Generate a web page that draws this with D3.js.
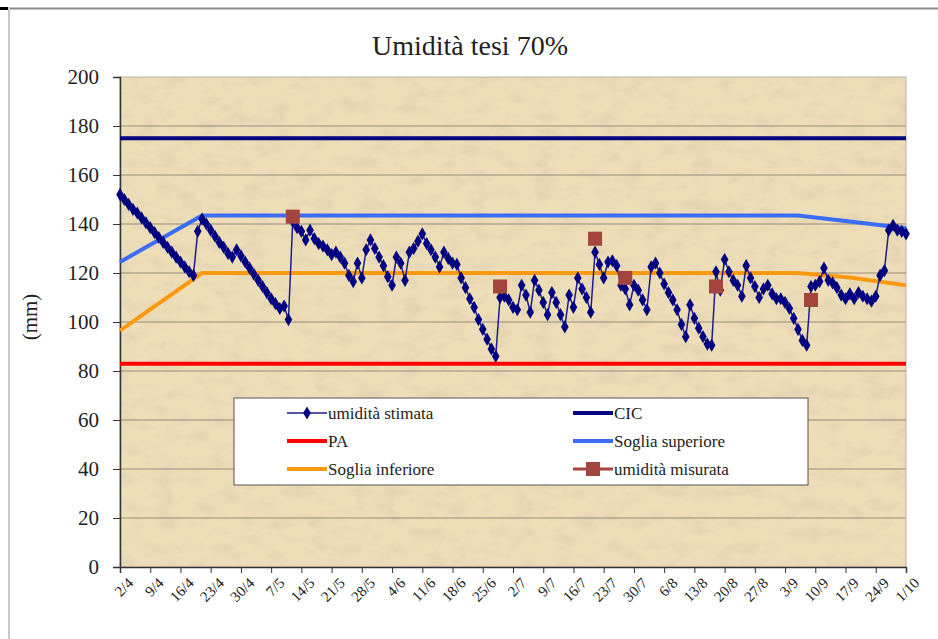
<!DOCTYPE html>
<html lang="it">
<head>
<meta charset="UTF-8">
<title>Umidità tesi 70%</title>
<script src="https://cdn.jsdelivr.net/npm/d3@7"></script>
<style>
    body{ margin:0; background:#fff; }
    svg text{ font-family:"Liberation Serif","Times New Roman","DejaVu Serif",serif; }
</style>
</head>
<body>
<script>
// dati
const inizio = "2/4";
const etichetteX = ["2/4","9/4","16/4","23/4","30/4","7/5","14/5","21/5","28/5","4/6","11/6","18/6","25/6",
    "2/7","9/7","16/7","23/7","30/7","6/8","13/8","20/8","27/8","3/9","10/9","17/9","24/9","1/10"];
const tickY = [0,20,40,60,80,100,120,140,160,180,200];

// umidità stimata, un valore al giorno dal 2/4 al 1/10
const stimata = [
    152,150,148,146,144.5,142.5,140.5,138.5,136.5,134.5,132.5,130.5,128.5,126.5,124.5,122.5,120.5,119,
    137,142,140,137.5,135,132.5,130.5,128,126.5,129.5,127,124.5,122,119.5,117,114.5,112,109.5,107.5,105.5,106.5,101,
    141,138.5,137,133.5,137.5,134,132,131,129.5,127.5,128.5,126.5,124,119,116.5,124,118,129.5,133.5,130,
    126.5,123,118.5,115,126.5,124,117,128.5,130,133,136,132,129.5,126.5,122.5,128.5,126,124,123.5,118,
    114,109.5,106,101,97,93,89,86,
    110,110.5,109,106,105,115,111,104,117,113,108,103,112,108,103,98,111,106,118,113.5,
    110,104,128.5,123.5,118,124.5,125,123,115,113.5,107,115,113,109,105,122.5,124,120,115.5,112,
    109,105,99,94,107,101.5,97.5,94,91,90.5,
    120.5,113,125.5,120.5,117,115,110.5,123,118,114.5,110,113.5,115,111.5,109.5,109.5,108,105.5,101.5,97,92.5,90.5,
    114.5,115,116.5,122,117,116,114,111,109.5,111.5,109.5,112,110.5,109.5,108.5,110.5,119,121,137.5,139.5,137.5,137,136
];

const misurataDate = ["12/5","29/6","21/7","28/7","18/8","9/9"];
const misurataVal = [143,114.5,134,118,114.5,109];

const sogliaDate = ["2/4","21/4","6/9","18/9","1/10"];
const sogliaSup = [124.5,143.5,143.5,141,138.3];
const sogliaInf = [96.5,120,120,118.2,115];

const CIC = 175;
const PA = 83;

const width = 938, height = 639;
const margin = {top:77, right:32, bottom:72, left:120};
const serif = '"Liberation Serif","Times New Roman","DejaVu Serif",serif';

const parse = d3.utcParse("%d/%m");
const start = parse(inizio);
const end = parse(etichetteX[etichetteX.length-1]);

const svg = d3.select("body").append("svg")
    .attr("width", width).attr("height", height);

const x = d3.scaleUtc().domain([start, end]).range([margin.left, width - margin.right]);
const y = d3.scaleLinear().domain([0, 200]).range([height - margin.bottom, margin.top]);

// cornice esterna
svg.append("line").attr("x1",8).attr("x2",width).attr("y1",8.5).attr("y2",8.5)
    .attr("stroke","#8a8a8a").attr("stroke-width",2);
svg.append("line").attr("x1",9).attr("x2",9).attr("y1",8).attr("y2",height)
    .attr("stroke","#c8c8c8").attr("stroke-width",2);
svg.append("line").attr("x1",0).attr("x2",8).attr("y1",8.5).attr("y2",8.5)
    .attr("stroke","#000").attr("stroke-width",3);

// sfondo pergamena
const defs = svg.append("defs");
const f = defs.append("filter").attr("id","carta")
    .attr("x",0).attr("y",0).attr("width",1).attr("height",1);
f.append("feTurbulence").attr("type","fractalNoise").attr("baseFrequency","0.045 0.07")
    .attr("numOctaves",4).attr("seed",11).attr("result","n");
f.append("feColorMatrix").attr("in","n").attr("type","matrix")
    .attr("values","0 0 0 0 0.66  0 0 0 0 0.56  0 0 0 0 0.40  0.9 0 0 0 -0.36");

const pw = x.range()[1] - x.range()[0];
const ph = y.range()[0] - y.range()[1];
svg.append("rect").attr("x",margin.left).attr("y",margin.top).attr("width",pw).attr("height",ph)
    .attr("fill","#eedeb8");
svg.append("rect").attr("x",margin.left).attr("y",margin.top).attr("width",pw).attr("height",ph)
    .attr("fill","#000").attr("filter","url(#carta)");
svg.append("rect").attr("x",margin.left).attr("y",margin.top).attr("width",pw).attr("height",ph)
    .attr("fill","none").attr("stroke","#b9b2a4");

// griglia
svg.append("g").selectAll("line").data(tickY.filter(d => d > 0 && d < 200)).join("line")
    .attr("x1",margin.left).attr("x2",width - margin.right)
    .attr("y1",d => y(d)).attr("y2",d => y(d))
    .attr("stroke","#80786a").attr("stroke-width",1).attr("opacity",0.8);

// assi
const tickDate = etichetteX.map(parse);
svg.append("g").attr("transform",`translate(0,${y(0)})`)
    .call(d3.axisBottom(x).tickValues(tickDate).tickSize(6).tickFormat((d,i) => etichetteX[i]))
    .call(g => g.select(".domain").attr("stroke","#333").attr("stroke-width",1.5))
    .call(g => g.selectAll(".tick line").attr("stroke","#333"))
    .call(g => g.selectAll("text")
        .style("font-family",serif).attr("font-size",15).attr("fill","#222")
        .attr("text-anchor","end").attr("dx","-0.15em").attr("dy","0.85em")
        .attr("transform","rotate(-45)"));

svg.append("g").attr("transform",`translate(${margin.left},0)`)
    .call(d3.axisLeft(y).tickValues(tickY).tickSize(7).tickPadding(14))
    .call(g => g.select(".domain").attr("stroke","#333").attr("stroke-width",1.5))
    .call(g => g.selectAll(".tick line").attr("stroke","#333"))
    .call(g => g.selectAll("text")
        .style("font-family",serif).attr("font-size",21).attr("fill","#222"));

svg.append("text").attr("transform",`translate(37,${(y(0)+y(200))/2 - 5}) rotate(-90)`)
    .style("font-family",serif)
    .attr("text-anchor","middle").attr("font-size",21).attr("fill","#222").text("(mm)");

svg.append("text").attr("x",470).attr("y",55).attr("text-anchor","middle")
    .style("font-family",serif)
    .attr("font-size",28).attr("fill","#222").text("Umidità tesi 70%");

// linee di soglia
const line = d3.line().x(d => x(d[0])).y(d => y(d[1]));
const orizz = v => [[start, v],[end, v]];
const soglia = vals => sogliaDate.map((d,i) => [parse(d), vals[i]]);

svg.append("path").attr("d", line(orizz(CIC))).attr("fill","none").attr("stroke","#000080").attr("stroke-width",4);
svg.append("path").attr("d", line(orizz(PA))).attr("fill","none").attr("stroke","#ff0000").attr("stroke-width",4);
svg.append("path").attr("d", line(soglia(sogliaSup))).attr("fill","none").attr("stroke","#3a6cf5").attr("stroke-width",4);
svg.append("path").attr("d", line(soglia(sogliaInf))).attr("fill","none").attr("stroke","#ff9a10").attr("stroke-width",4);

// umidità stimata
const serie = stimata.map((v,i) => [d3.utcDay.offset(start, i), v]);
svg.append("path").attr("d", line(serie)).attr("fill","none").attr("stroke","#1d1d8a").attr("stroke-width",1.5);
const diamante = d3.symbol().type(d3.symbolDiamond).size(50);
svg.append("g").selectAll("path").data(serie).join("path")
    .attr("transform", d => `translate(${x(d[0])},${y(d[1])})`)
    .attr("d", diamante).attr("fill","#000080");

// umidità misurata
svg.append("g").selectAll("rect").data(misurataDate.map((d,i) => [parse(d), misurataVal[i]])).join("rect")
    .attr("x", d => x(d[0]) - 7).attr("y", d => y(d[1]) - 7)
    .attr("width",14).attr("height",14).attr("fill","#a3443e");

// legenda
const leg = svg.append("g");
leg.append("rect").attr("x",234).attr("y",398).attr("width",574).attr("height",87)
    .attr("fill","#fff").attr("stroke","#555").attr("stroke-width",1);
const voci = [
    {nome:"umidità stimata", col:"#1d1d8a", w:1.5, mark:"diamond", c:0, r:0},
    {nome:"CIC", col:"#000080", w:4, c:1, r:0},
    {nome:"PA", col:"#ff0000", w:4, c:0, r:1},
    {nome:"Soglia superiore", col:"#3a6cf5", w:4, c:1, r:1},
    {nome:"Soglia inferiore", col:"#ff9a10", w:4, c:0, r:2},
    {nome:"umidità misurata", col:"#a3443e", w:3, mark:"square", c:1, r:2}
];
const voce = leg.selectAll("g").data(voci).join("g")
    .attr("transform", d => `translate(${d.c ? 573 : 287},${413 + d.r * 28})`);
voce.append("line").attr("x1",0).attr("x2",40).attr("stroke", d => d.col).attr("stroke-width", d => d.w);
voce.filter(d => d.mark === "diamond").append("path").attr("transform","translate(20,0)")
    .attr("d", diamante).attr("fill","#000080");
voce.filter(d => d.mark === "square").append("rect").attr("x",13).attr("y",-7)
    .attr("width",14).attr("height",14).attr("fill","#a3443e");
voce.append("text").attr("x",41).attr("dy","0.35em")
    .style("font-family",serif).attr("font-size",17).attr("fill","#222")
    .text(d => d.nome);
</script>
</body>
</html>
